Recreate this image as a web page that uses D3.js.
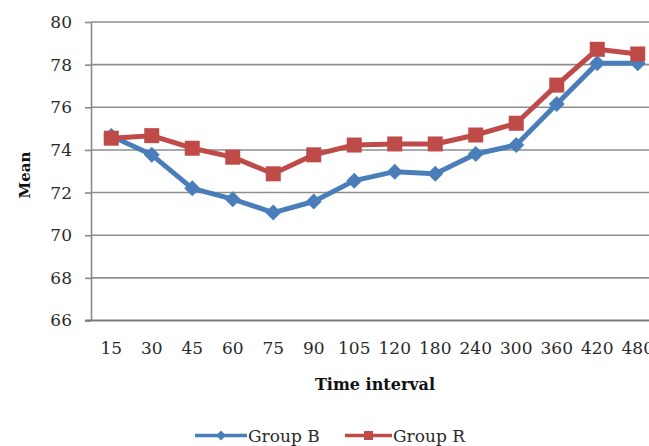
<!DOCTYPE html>
<html>
<head>
<meta charset="utf-8">
<script src="https://cdn.jsdelivr.net/npm/d3@7"></script>
<style>
  html, body { margin: 0; padding: 0; background: #fff; }
  svg { display: block; }
</style>
</head>
<body>
<svg id="chart" width="649" height="446"></svg>
<script>
// Time intervals (categorical x axis)
const categories = ["15", "30", "45", "60", "75", "90", "105", "120", "180", "240", "300", "360", "420", "480"];

// Mean scores per time interval
const groupB = [74.65, 73.77, 72.2, 71.69, 71.06, 71.58, 72.56, 72.98, 72.88, 73.81, 74.23, 76.15, 78.06, 78.06];
const groupR = [74.55, 74.67, 74.08, 73.66, 72.88, 73.77, 74.23, 74.28, 74.28, 74.70, 75.25, 77.04, 78.72, 78.5];

const yTicks = [66, 68, 70, 72, 74, 76, 78, 80];
const seriesNames = ["Group B", "Group R"];

(function () {
  const W = 649;
  const plotLeft = 91, plotTop = 22, plotBottom = 320.5;
  const step = 40.5;

  const svg = d3.select("#chart");
  const font = "'DejaVu Serif', serif";

  const x = d3.scaleBand()
    .domain(categories)
    .range([plotLeft, plotLeft + step * categories.length])
    .paddingInner(0).paddingOuter(0);

  const y = d3.scaleLinear().domain([66, 80]).range([plotBottom, plotTop]);

  const cx = d => x(d) + x.bandwidth() / 2;

  // Horizontal gridlines
  svg.append("g")
    .selectAll("line")
    .data(yTicks.filter(t => t !== 66))
    .join("line")
    .attr("x1", plotLeft).attr("x2", W)
    .attr("y1", d => y(d)).attr("y2", d => y(d))
    .attr("stroke", "#8e8e8e")
    .attr("stroke-width", 1.6);

  // Y axis
  const yAxis = svg.append("g")
    .attr("transform", `translate(${plotLeft},0)`)
    .call(d3.axisLeft(y).tickValues(yTicks).tickSize(6).tickSizeOuter(0).tickPadding(13).tickFormat(d3.format("d")));
  yAxis.select(".domain").attr("stroke", "#8a8a8a").attr("stroke-width", 1.6);
  yAxis.selectAll(".tick line").attr("stroke", "#8a8a8a").attr("stroke-width", 1.6);
  yAxis.selectAll("text")
    .attr("font-family", font)
    .attr("font-size", 17)
    .attr("fill", "#2a2a2a");

  // X axis
  const xAxis = svg.append("g")
    .attr("transform", `translate(0,${plotBottom})`)
    .call(d3.axisBottom(x).tickSize(0).tickSizeOuter(0).tickPadding(21));
  xAxis.select(".domain").attr("stroke", "#7a7a7a").attr("stroke-width", 2).attr("d", `M${plotLeft - 6},0H${W}`);
  xAxis.selectAll("text")
    .attr("font-family", font)
    .attr("font-size", 17)
    .attr("fill", "#2a2a2a");

  // Axis titles
  svg.append("text")
    .attr("x", 375).attr("y", 390)
    .attr("text-anchor", "middle")
    .attr("font-family", font)
    .attr("font-weight", "bold")
    .attr("font-size", 16)
    .attr("fill", "#111")
    .text("Time interval");

  svg.append("text")
    .attr("transform", "translate(30,175) rotate(-90)")
    .attr("text-anchor", "middle")
    .attr("font-family", font)
    .attr("font-weight", "bold")
    .attr("font-size", 15)
    .attr("fill", "#111")
    .text("Mean");

  const colors = { "Group B": "#4a7ebb", "Group R": "#be4b48" };
  const values = { "Group B": groupB, "Group R": groupR };

  const line = d3.line()
    .x((d, i) => cx(categories[i]))
    .y(d => y(d));

  function drawMarker(g, name, px, py, size) {
    if (name === "Group B") {
      g.append("path")
        .attr("transform", `translate(${px},${py})`)
        .attr("d", `M0,${-size}L${size},0L0,${size}L${-size},0Z`)
        .attr("fill", colors[name]);
    } else {
      g.append("rect")
        .attr("x", px - size).attr("y", py - size)
        .attr("width", size * 2).attr("height", size * 2)
        .attr("fill", colors[name]);
    }
  }

  seriesNames.forEach(name => {
    const g = svg.append("g");
    g.append("path")
      .datum(values[name])
      .attr("d", line)
      .attr("fill", "none")
      .attr("stroke", colors[name])
      .attr("stroke-width", 5)
      .attr("stroke-linejoin", "round");
    values[name].forEach((v, i) => {
      drawMarker(g, name, cx(categories[i]), y(v), name === "Group B" ? 8 : 7.5);
    });
  });

  // Legend
  const legend = [
    { name: "Group B", x0: 195, x1: 247 },
    { name: "Group R", x0: 345, x1: 392 }
  ];
  const ly = 435.5;
  legend.forEach(l => {
    const g = svg.append("g");
    g.append("line")
      .attr("x1", l.x0).attr("x2", l.x1)
      .attr("y1", ly).attr("y2", ly)
      .attr("stroke", colors[l.name])
      .attr("stroke-width", 3.5);
    drawMarker(g, l.name, (l.x0 + l.x1) / 2, ly, l.name === "Group B" ? 5 : 4.5);
    g.append("text")
      .attr("x", l.x1 + 1).attr("y", ly + 6)
      .attr("font-family", font)
      .attr("font-size", 17)
      .attr("fill", "#2a2a2a")
      .text(l.name);
  });
})();
</script>
</body>
</html>
